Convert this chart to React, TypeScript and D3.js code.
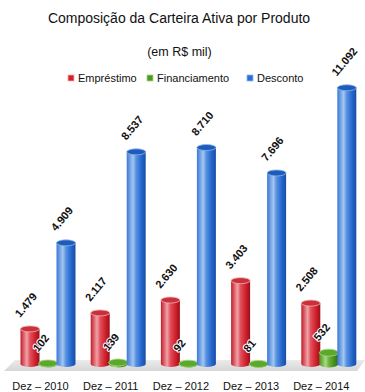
import React from "react";
import * as d3 from "d3";

const categories = ["Dez – 2010", "Dez – 2011", "Dez – 2012", "Dez – 2013", "Dez – 2014"];
const seriesNames = ["Empréstimo", "Financiamento", "Desconto"];
const emprestimo = [1479, 2117, 2630, 3403, 2508];
const financiamento = [102, 139, 92, 81, 532];
const desconto = [4909, 8537, 8710, 7696, 11092];
const valueLabels = [
  ["1.479", "2.117", "2.630", "3.403", "2.508"],
  ["102", "139", "92", "81", "532"],
  ["4.909", "8.537", "8.710", "7.696", "11.092"],
];
const seriesValues = [emprestimo, financiamento, desconto];

const W = 365;
const H = 392;
const FONT = "'Liberation Sans', Arial, sans-serif";

const palette = [
  { id: "red", base: "#d7202c", stops: ["#c41c28", "#f0a2a9", "#e0505a", "#cf1f2b", "#9a0f18"], top: "#c9303a", topStroke: "#f3b0b5" },
  { id: "green", base: "#4c9a22", stops: ["#4a9320", "#a9d97e", "#6cb23c", "#44901c", "#2f6d12"], top: "#5aa82c", topStroke: "#a8d880" },
  { id: "blue", base: "#2a6fd6", stops: ["#3a78d8", "#a4c6f0", "#5590e0", "#2466cc", "#184ea3"], top: "#1e5cbc", topStroke: "#8fb6ea" },
];

export default function App() {
  const x0 = d3.scaleBand<string>().domain(categories).range([12.4, 363.4]).paddingInner(0).paddingOuter(0);
  const x1 = d3.scaleBand<string>().domain(seriesNames).range([8.6, 62.6]).padding(0);
  const y = d3.scaleLinear().domain([0, 12000]).range([363, 62]);
  const barW = 19;
  const ry = 3;
  const baseY = y(0) + 1;

  return (
    <svg width={W} height={H} style={{ position: "absolute", left: 0, top: 0, background: "#fff" }} fontFamily={FONT}>
      <defs>
        {palette.map((p) => (
          <linearGradient key={p.id} id={`g-${p.id}`} x1="0" x2="1" y1="0" y2="0">
            <stop offset="0%" stopColor={p.stops[0]} />
            <stop offset="33%" stopColor={p.stops[1]} />
            <stop offset="50%" stopColor={p.stops[2]} />
            <stop offset="78%" stopColor={p.stops[3]} />
            <stop offset="100%" stopColor={p.stops[4]} />
          </linearGradient>
        ))}
        <linearGradient id="floor" x1="0" x2="0" y1="0" y2="1">
          <stop offset="0%" stopColor="#ebebeb" />
          <stop offset="100%" stopColor="#d6d6d6" />
        </linearGradient>
      </defs>

      <text x={179} y={23} textAnchor="middle" fontSize={14} fill="#111">
        Composição da Carteira Ativa por Produto
      </text>
      <text x={179.5} y={56} textAnchor="middle" fontSize={12.5} fill="#111">
        (em R$ mil)
      </text>

      {/* legend */}
      {[
        { x: 68, label: seriesNames[0] },
        { x: 147, label: seriesNames[1] },
        { x: 247, label: seriesNames[2] },
      ].map((l, i) => (
        <g key={l.label}>
          <rect x={l.x} y={75} width={6} height={6} fill={palette[i].base} stroke={palette[i].topStroke} strokeWidth={0.8} />
          <text x={l.x + 10} y={81.5} fontSize={11} fill="#111">
            {l.label}
          </text>
        </g>
      ))}

      {/* floor */}
      <polygon points={`15,360 365,360 357,371 4,371`} fill="url(#floor)" />

      {categories.map((c, ci) => (
        <g key={c}>
          {seriesNames.map((s, si) => {
            const v = seriesValues[si][ci];
            const cx = (x0(c) as number) + (x1(s) as number) + x1.bandwidth() / 2;
            const left = cx - barW / 2;
            const topY = y(v) + ry;
            const p = palette[si];
            const rx = barW / 2;
            const ryy = si === 1 ? 3.5 : ry;
            const path = `M${left},${topY} L${left},${baseY} A${rx},${ryy} 0 0 0 ${left + barW},${baseY} L${left + barW},${topY} Z`;
            return (
              <g key={s}>
                <path d={path} fill={`url(#g-${p.id})`} />
                <ellipse cx={cx} cy={topY} rx={rx} ry={ryy} fill={p.top} stroke={p.topStroke} strokeWidth={0.8} />
              </g>
            );
          })}
        </g>
      ))}

      {/* value labels */}
      {categories.map((c, ci) =>
        seriesNames.map((s, si) => {
          const v = seriesValues[si][ci];
          const cx = (x0(c) as number) + (x1(s) as number) + x1.bandwidth() / 2;
          const lx = cx - 10;
          const ly = y(v) - 8;
          return (
            <text
              key={`${c}-${s}`}
              x={lx}
              y={ly}
              fontSize={11}
              fontWeight="bold"
              fill="#111"
              stroke="#fff"
              strokeWidth={2}
              strokeLinejoin="round"
              paintOrder="stroke"
              transform={`rotate(-50 ${lx} ${ly})`}
            >
              {valueLabels[si][ci]}
            </text>
          );
        })
      )}

      {/* x labels */}
      {categories.map((c) => (
        <text key={c} x={(x0(c) as number) + x0.bandwidth() / 2 - 7} y={390} textAnchor="middle" fontSize={11} fill="#111">
          {c}
        </text>
      ))}
    </svg>
  );
}
